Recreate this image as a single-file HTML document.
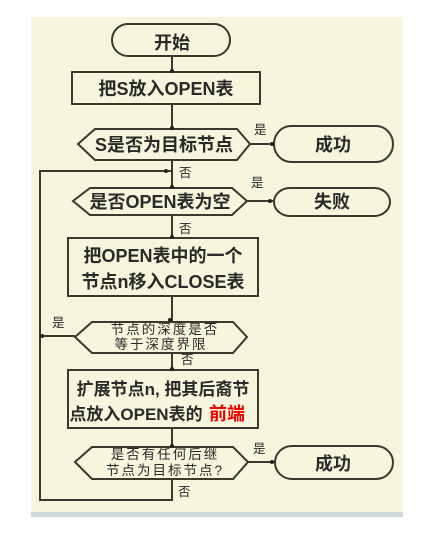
<!DOCTYPE html>
<html><head><meta charset="utf-8"><style>
html,body{margin:0;padding:0;background:#fff;}
svg{display:block;}
text{font-family:"Liberation Sans","Noto Sans CJK SC",sans-serif;fill:#2a2a2a;}
</style></head><body>
<svg width="435" height="539" viewBox="0 0 435 539" xmlns="http://www.w3.org/2000/svg">
<rect x="31" y="17" width="372" height="496" fill="#f6f6dc"/>
<rect x="31" y="512" width="372" height="5" fill="#cdd9dc"/>
<g stroke="#3a3a2a" stroke-width="2" fill="none">
<path d="M128,24 H214 A16,16 0 0 1 214,56 H128 A16,16 0 0 1 128,24 Z"/>
<rect x="72" y="72" width="188" height="32"/>
<polygon points="78,144 95,129 237,129 250,144 237,160 95,160"/>
<path d="M291,126 H376 A17,18 0 0 1 376,162 H291 A17,18 0 0 1 291,126 Z"/>
<polygon points="73,201 90,188 232,188 247,201 232,215 90,215"/>
<path d="M290,188 H374 A16,14 0 0 1 374,216 H290 A16,14 0 0 1 290,188 Z"/>
<rect x="68" y="238" width="190" height="58"/>
<polygon points="75,337 92,322 233,322 247,337 233,353 92,353"/>
<rect x="68" y="370" width="190" height="58"/>
<polygon points="75,462 92,447 233,447 248,462 233,479 92,479"/>
<path d="M292,446 H376 A17,16.5 0 0 1 376,479 H292 A17,16.5 0 0 1 292,446 Z"/>
<path d="M172,56 V72 M172,104 V129 M172,160 V188 M172,215 V238 M172,296 V322 M172,353 V370 M172,428 V447 M172,479 V500 H40 V171 H172 M75,336 H40 M250,144 H275 M247,201 H273 M248,462 H275"/>
</g>
<g fill="#222">
<circle cx="172" cy="71" r="2"/><circle cx="172" cy="128" r="2"/><circle cx="172" cy="187" r="2"/>
<circle cx="172" cy="237" r="2"/><circle cx="170" cy="320" r="2"/><circle cx="172" cy="369" r="2"/>
<circle cx="172" cy="446" r="2"/><circle cx="166" cy="171" r="2"/><circle cx="42" cy="336" r="2"/>
<circle cx="272" cy="144" r="2"/><circle cx="270" cy="201" r="2"/><circle cx="272" cy="462" r="2"/>
</g>
<g font-size="18" text-anchor="middle" font-weight="bold">
<text x="172" y="49">开始</text>
<text x="166" y="95">把S放入OPEN表</text>
<text x="164" y="151">S是否为目标节点</text>
<text x="333" y="151">成功</text>
<text x="160" y="208">是否OPEN表为空</text>
<text x="332" y="208">失败</text>
<text x="163" y="262">把OPEN表中的一个</text>
<text x="163" y="288">节点n移入CLOSE表</text>
<text x="163" y="395" font-size="17">扩展节点n, 把其后裔节</text>
<text x="136" y="420" font-size="17">点放入OPEN表的</text>
<text x="227" y="420" style="fill:#ee0000">前端</text>
<text x="333" y="470">成功</text>
</g>
<g font-size="13.5" text-anchor="middle" letter-spacing="2">
<text x="165" y="334">节点的深度是否</text>
<text x="161" y="349">等于深度界限</text>
<text x="165" y="459">是否有任何后继</text>
<text x="165" y="475">节点为目标节点?</text>
</g>
<g font-size="12.5">
<text x="254" y="134">是</text>
<text x="251" y="187">是</text>
<text x="52" y="327">是</text>
<text x="253" y="453">是</text>
<text x="179" y="177">否</text>
<text x="179" y="233">否</text>
<text x="181" y="364">否</text>
<text x="178" y="496">否</text>
</g>
</svg>
</body></html>
